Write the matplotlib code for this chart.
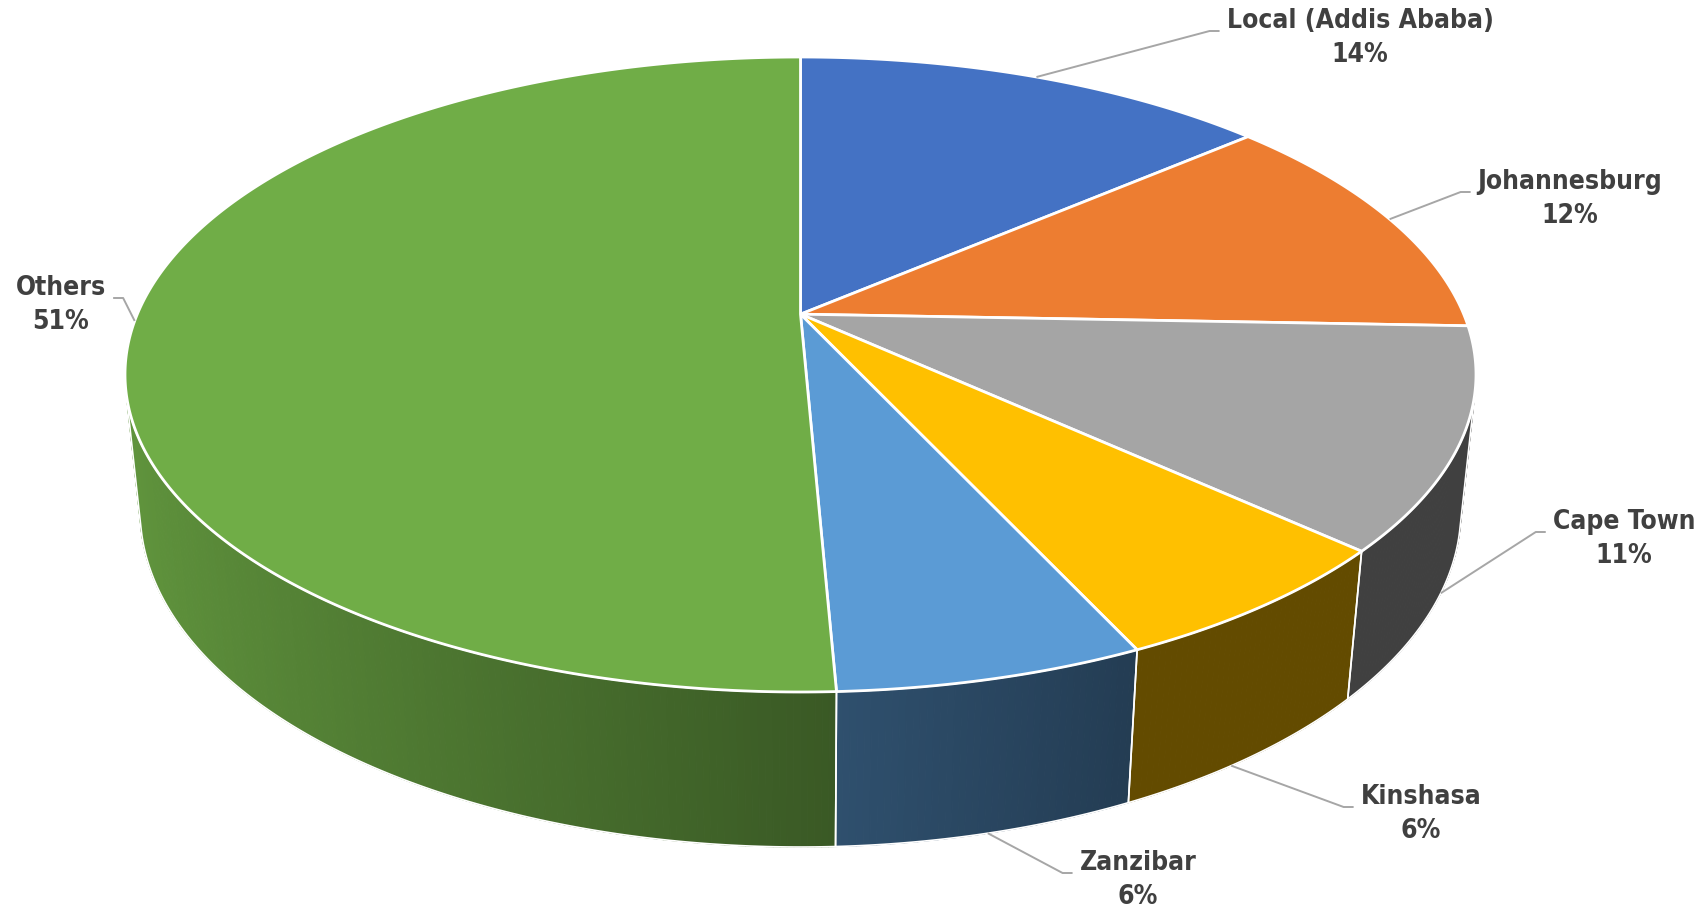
import numpy as np
import matplotlib.pyplot as plt
from matplotlib.patches import Polygon
from matplotlib.collections import PolyCollection
from matplotlib.colors import to_rgb

# share of passengers per destination (percent)
cities = ['Local (Addis Ababa)', 'Johannesburg', 'Cape Town', 'Kinshasa', 'Zanzibar', 'Others']
shares = [13.7, 11.9, 11.2, 6.3, 6.2, 50.7]
colors = ['#4472C4', '#ED7D31', '#A5A5A5', '#FFC000', '#5B9BD5', '#70AD47']

# label block centres (pixels) and where the leader touches the slice
label_xy = [(1360, 38), (1570, 199), (1624, 539), (1421, 814), (1138, 880), (61, 305)]
attach_depth = [0, 0, 1.0, 1.0, 1.0, 0]
attach_shift = [0, 0, -2, -2, 0, 0]

W, H = 1708, 910

# simple perspective camera looking down on a flat cylinder of radius 1
alpha = np.radians(27)
ca, sa = np.cos(alpha), np.sin(alpha)
L = ca / 0.19


def proj(X, Y, z):
    vy = Y + L * ca
    vz = z - L * sa
    depth = vy * ca - vz * sa
    return X / depth, (vy * sa + vz * ca) / depth


t = np.linspace(0, 2 * np.pi, 1441)
sx0, sy0 = proj(np.cos(t), np.sin(t), 0.0)
box = (125, 1476, 57, 692)   # left, right, top, bottom of the top face
kx = (box[1] - box[0]) / (sx0.max() - sx0.min())
ky = (box[3] - box[2]) / (sy0.max() - sy0.min())


def to_px(X, Y, z):
    sx, sy = proj(X, Y, z)
    return box[0] + (sx - sx0.min()) * kx, box[2] + (sy0.max() - sy) * ky


def rim(deg, z):
    r = np.radians(deg)
    return to_px(np.cos(r), np.sin(r), z)


# thickness so that the front bottom edge lands at y=847
sy_t = sy0.max() - (847 - box[2]) / ky
h = -(sy_t * (L - ca) + sa) / (ca + sy_t * sa)

cum = np.concatenate([[0], np.cumsum(shares)])
hi = 90 - cum[:-1] * 3.6
lo = 90 - cum[1:] * 3.6
edge = np.degrees(np.arcsin(1 / (L * ca)))
vis_lo, vis_hi = -180 + edge, -edge


def shade(deg):
    c = np.cos(np.radians(deg))
    return np.interp(c, [-1.0, 0.0, 0.42, 1.0], [0.87, 0.53, 0.39, 0.39])


fig = plt.figure(figsize=(W / 100, H / 100), dpi=100)
ax = fig.add_axes([0, 0, 1, 1])
ax.set_xlim(0, W)
ax.set_ylim(H, 0)
ax.axis('off')

# outer walls (only the front part is visible)
for i in range(len(shares)):
    a0, a1 = max(lo[i], vis_lo), min(hi[i], vis_hi)
    if a1 <= a0:
        continue
    n = int((a1 - a0) / 0.5) + 2
    d = np.linspace(a0, a1, n)
    tx, ty = rim(d, 0.0)
    bx, by = rim(d, -h)
    base = np.array(to_rgb(colors[i]))
    quads, cols = [], []
    for j in range(n - 1):
        quads.append([(tx[j], ty[j]), (tx[j + 1], ty[j + 1]), (bx[j + 1], by[j + 1]), (bx[j], by[j])])
        cols.append(np.clip(base * shade((d[j] + d[j + 1]) / 2), 0, 1))
    ax.add_collection(PolyCollection(quads, facecolors=cols, edgecolors=cols, linewidths=0.8, zorder=1))
    outline = np.column_stack([np.concatenate([tx, bx[::-1]]), np.concatenate([ty, by[::-1]])])
    ax.add_patch(Polygon(outline, closed=True, fill=False, edgecolor='white', lw=1.2, zorder=2))

# top faces
apex = to_px(0.0, 0.0, 0.0)
for i in range(len(shares)):
    n = int((hi[i] - lo[i]) / 0.5) + 2
    px, py = rim(np.linspace(hi[i], lo[i], n), 0.0)
    pts = np.column_stack([np.concatenate([[apex[0]], px]), np.concatenate([[apex[1]], py])])
    ax.add_patch(Polygon(pts, closed=True, facecolor=colors[i], edgecolor='white', lw=2,
                         joinstyle='round', zorder=3))

# labels with leader lines
texts = []
for i in range(len(shares)):
    x, y = label_xy[i]
    texts.append(ax.text(x, y, f"{cities[i]}\n{shares[i]:.0f}%", ha='center', va='center',
                         fontsize=19, fontweight='bold', fontstretch='condensed', color='#404040',
                         family='DejaVu Sans', linespacing=1.36, zorder=5))

fig.canvas.draw()
renderer = fig.canvas.get_renderer()
for i, tt in enumerate(texts):
    bb = tt.get_window_extent(renderer)
    left, right = bb.x0, bb.x1
    yl = label_xy[i][1] - 7
    mid = (hi[i] + lo[i]) / 2 + attach_shift[i]
    axp, ayp = rim(mid, -h * attach_depth[i])
    if label_xy[i][0] > apex[0]:
        xs = [float(axp), left - 17, left - 7]
    else:
        xs = [float(axp), right + 17, right + 7]
    ax.plot(xs, [float(ayp), yl, yl], color='#A6A6A6', lw=1.4, zorder=4, solid_capstyle='butt')

fig.savefig('out.png', dpi=100)
